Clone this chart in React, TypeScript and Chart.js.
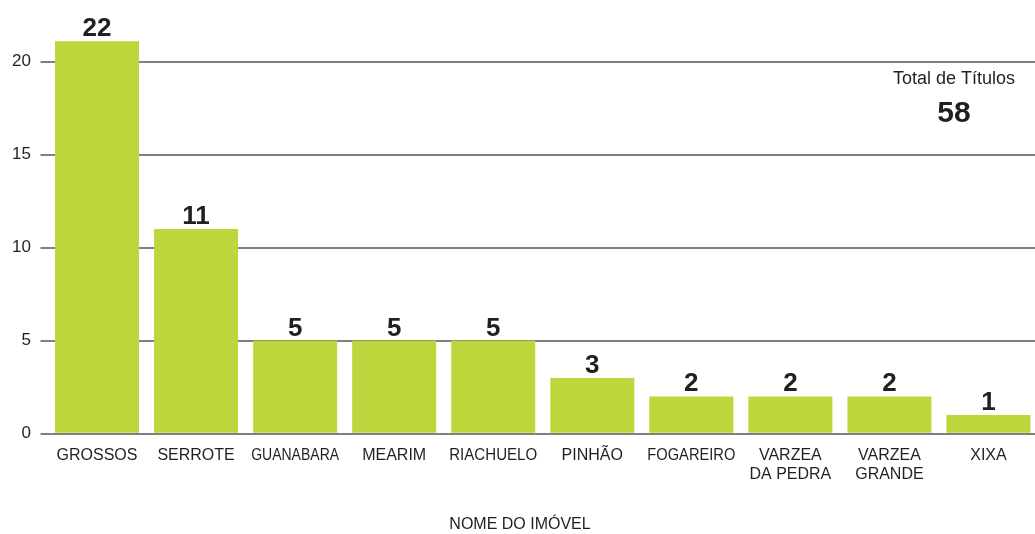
import React, { useEffect, useRef } from "react";
import { Chart, registerables } from "chart.js";

Chart.register(...registerables);

const categories: (string | string[])[] = [
  "GROSSOS",
  "SERROTE",
  "GUANABARA",
  "MEARIM",
  "RIACHUELO",
  "PINHÃO",
  "FOGAREIRO",
  ["VARZEA", "DA PEDRA"],
  ["VARZEA", "GRANDE"],
  "XIXA",
];
const titulos = [22, 11, 5, 5, 5, 3, 2, 2, 2, 1];
const yTicks = [0, 5, 10, 15, 20];
const yMax = 21.1;
const axisTitle = "NOME DO IMÓVEL";
const totalLabel = "Total de Títulos";

const FONT = "'Liberation Sans', Arial, Helvetica, sans-serif";
const BAR_COLOR = "#bdd63b";
const TEXT_COLOR = "#231f20";
const GRID_COLOR = "#808080";

const overlayPlugin = {
  id: "overlayText",
  afterDatasetsDraw(chart: any) {
    const { ctx, chartArea } = chart;
    const meta = chart.getDatasetMeta(0);
    ctx.save();
    ctx.fillStyle = TEXT_COLOR;
    ctx.textAlign = "center";

    // value labels above bars
    ctx.textBaseline = "alphabetic";
    ctx.font = `bold 26px ${FONT}`;
    meta.data.forEach((bar: any, i: number) => {
      const y = Math.max(bar.y, chartArea.top);
      ctx.fillText(String(titulos[i]), bar.x, y - 5);
    });

    // category labels (fit into the bar slot like the original)
    ctx.textBaseline = "middle";
    ctx.font = `16px ${FONT}`;
    meta.data.forEach((bar: any, i: number) => {
      const cat = categories[i];
      const lines = Array.isArray(cat) ? cat : [cat];
      lines.forEach((line, j) => {
        ctx.fillText(line, bar.x, chartArea.bottom + 21.8 + j * 19.2, 88);
      });
    });

    // total box
    const total = titulos.reduce((a, b) => a + b, 0);
    const tx = chartArea.right - 84;
    ctx.font = `18px ${FONT}`;
    ctx.fillText(totalLabel, tx, 79);
    ctx.font = `bold 30px ${FONT}`;
    ctx.fillText(String(total), tx, 114);

    // axis title
    ctx.font = `16px ${FONT}`;
    ctx.fillText(axisTitle, chart.width / 2 + 1, chartArea.bottom + 91);
    ctx.restore();
  },
};

export default function App() {
  const canvasRef = useRef<HTMLCanvasElement | null>(null);

  useEffect(() => {
    if (!canvasRef.current) return;
    const chart = new Chart(canvasRef.current, {
      type: "bar",
      data: {
        labels: categories,
        datasets: [
          {
            data: titulos,
            backgroundColor: BAR_COLOR,
            borderWidth: 0,
            categoryPercentage: 1,
            barPercentage: 0.848,
          },
        ],
      },
      options: {
        responsive: false,
        animation: false,
        events: [],
        layout: { padding: { top: 41.2, bottom: 40.3, left: 0, right: 0 } },
        plugins: {
          legend: { display: false },
          tooltip: { enabled: false },
          title: { display: false },
        },
        scales: {
          x: {
            grid: { display: false, drawTicks: false },
            border: { display: false },
            ticks: { display: false },
            afterFit: (s: any) => {
              s.height = 60;
            },
          },
          y: {
            min: 0,
            max: yMax,
            grid: { color: GRID_COLOR, lineWidth: 2, tickLength: 7 },
            border: { display: false },
            ticks: {
              color: TEXT_COLOR,
              font: { family: FONT, size: 17 },
              padding: 9.5,
            },
            afterBuildTicks: (s: any) => {
              s.ticks = yTicks.map((v) => ({ value: v }));
            },
            afterFit: (s: any) => {
              s.width = 47.5;
            },
          },
        },
      },
      plugins: [overlayPlugin],
    } as any);
    return () => chart.destroy();
  }, []);

  return (
    <div
      style={{
        position: "absolute",
        left: 0,
        top: 0,
        width: 1035,
        height: 534,
        overflow: "hidden",
        background: "#ffffff",
      }}
    >
      <canvas ref={canvasRef} width={1038} height={534} style={{ display: "block" }} />
    </div>
  );
}
